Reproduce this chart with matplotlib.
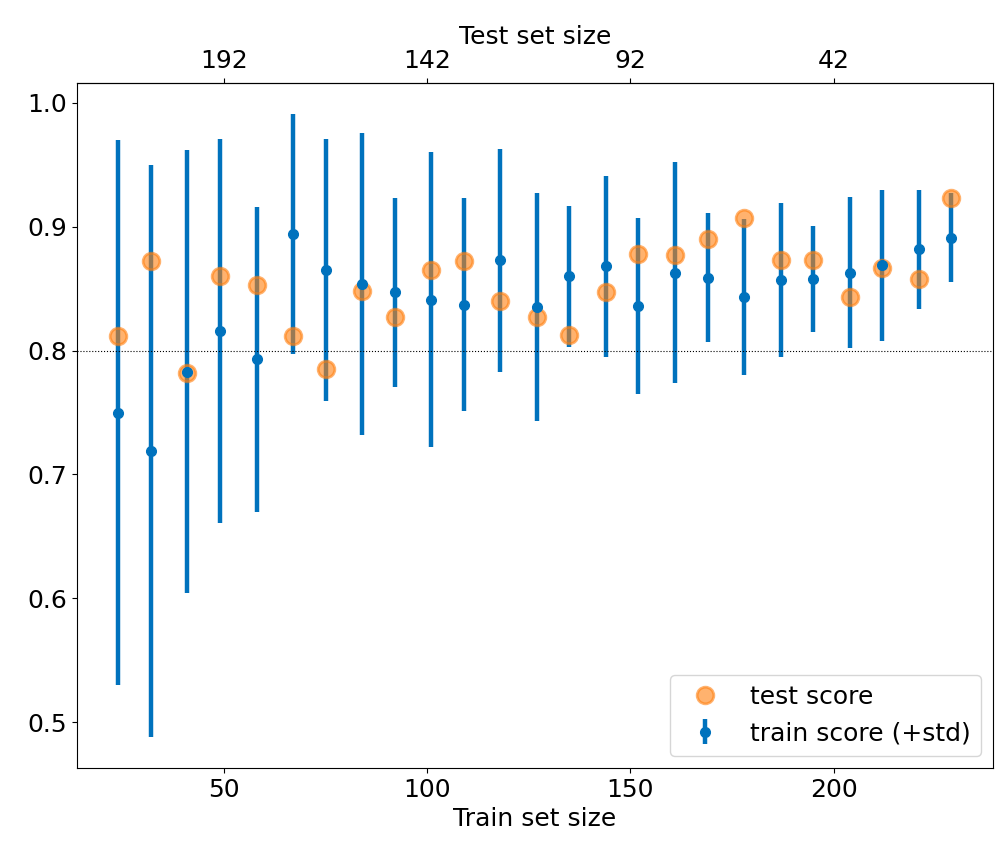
import numpy as np
import matplotlib
matplotlib.use("Agg")
import matplotlib.pyplot as plt

# data
n_total = 242
train_sizes = [24, 32, 41, 49, 58, 67, 75, 84, 92, 101, 109, 118, 127,
               135, 144, 152, 161, 169, 178, 187, 195, 204, 212, 221, 229]
train_mean = [0.750, 0.719, 0.783, 0.816, 0.793, 0.894, 0.865, 0.854, 0.847,
              0.841, 0.837, 0.873, 0.835, 0.860, 0.868, 0.836, 0.863, 0.859,
              0.843, 0.857, 0.858, 0.863, 0.869, 0.882, 0.891]
train_std = [0.220, 0.231, 0.179, 0.155, 0.123, 0.097, 0.106, 0.122, 0.076,
             0.119, 0.086, 0.090, 0.092, 0.057, 0.073, 0.071, 0.089, 0.052,
             0.063, 0.062, 0.043, 0.061, 0.061, 0.048, 0.036]
test_score = [0.812, 0.872, 0.782, 0.860, 0.853, 0.812, 0.785, 0.848, 0.827,
              0.865, 0.872, 0.840, 0.827, 0.813, 0.847, 0.878, 0.877, 0.890,
              0.907, 0.873, 0.873, 0.843, 0.867, 0.858, 0.923]
top_ticks = [192, 142, 92, 42]

plt.rcParams['font.size'] = 18

fig, ax = plt.subplots(figsize=(9.96, 8.46), dpi=100)
fig.subplots_adjust(left=0.077, right=0.997, bottom=0.092, top=0.902)

ax.errorbar(train_sizes, train_mean, yerr=train_std, fmt='o', color='#0072bd',
            markersize=7, elinewidth=3.2, label='train score (+std)')
ax.plot(train_sizes, test_score, 'o', color='#ff7f0e', alpha=0.6,
        markersize=12, markeredgewidth=2, label='test score')
ax.axhline(0.8, color='k', linestyle=':', linewidth=0.8)

ax.set_xlabel('Train set size')
ax.legend(loc='lower right')

# top axis: test size = total - train size
secax = ax.secondary_xaxis('top', functions=(lambda x: n_total - x,
                                             lambda x: n_total - x))
secax.set_xticks(top_ticks)
secax.set_xlabel('Test set size')

fig.savefig('out.png', dpi=100)
